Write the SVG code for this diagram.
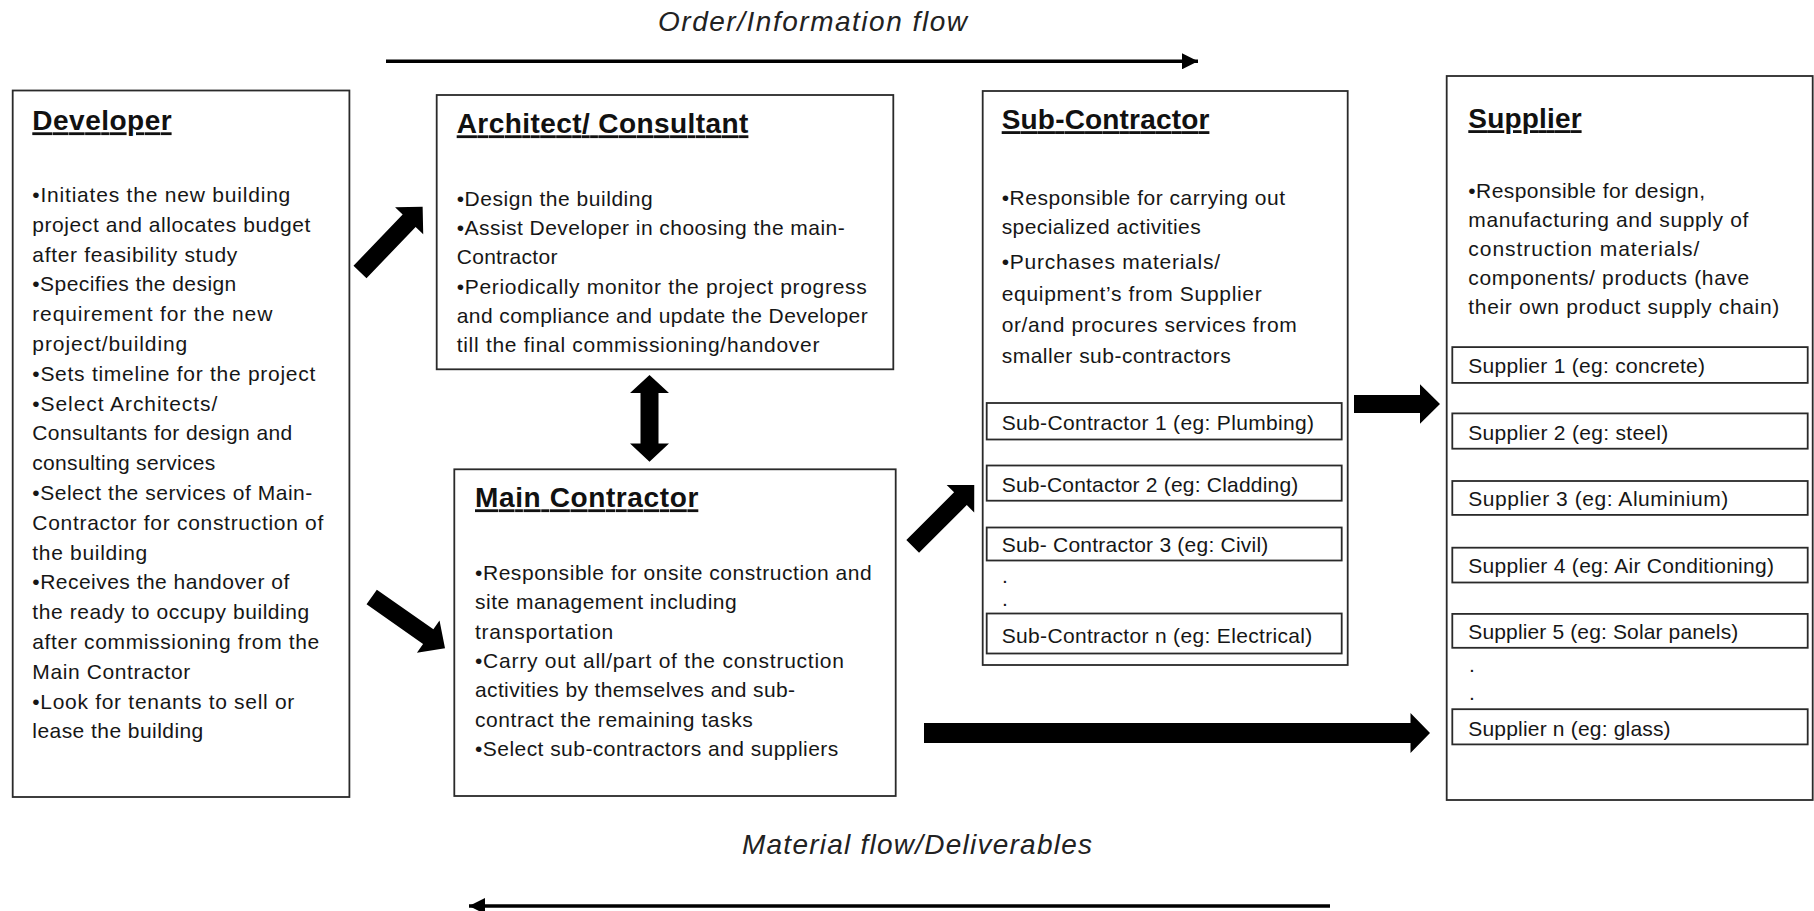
<svg xmlns="http://www.w3.org/2000/svg" width="1814" height="911" viewBox="0 0 1814 911">
<style>
.bg{fill:#fff}
.box{fill:#fff;stroke:#2a2a2a;stroke-width:1.8}
.sub{fill:#fff;stroke:#2a2a2a;stroke-width:1.8}
.t{font-family:"Liberation Sans",Arial,sans-serif;font-size:21px;fill:#161616}
.h{font-family:"Liberation Sans",Arial,sans-serif;font-size:28px;font-weight:bold;fill:#111;text-decoration:underline}
.it{font-family:"Liberation Sans",Arial,sans-serif;font-size:28px;font-style:italic;fill:#222}
.blk{fill:#000}
.thin{stroke:#000;stroke-width:3.5;fill:none}
</style>
<defs>
<marker id="ah" markerWidth="18" markerHeight="16" refX="16" refY="8" orient="auto" markerUnits="userSpaceOnUse">
<path d="M0,0 L16,8 L0,16 Z" fill="#000"/>
</marker>
</defs>
<rect class="bg" x="0" y="0" width="1814" height="911"/>

<g id="flow-labels">
<text class="it" x="658" y="31" textLength="309">Order/Information flow</text>
<text class="it" x="742" y="854" textLength="350">Material flow/Deliverables</text>
</g>

<g id="developer">
<rect class="box" x="12.7" y="90.5" width="336.7" height="706.5"/>
<text class="h" x="32.3" y="130.3" textLength="139.3">Developer</text>
<text class="t" x="32.3" y="202" textLength="258">•Initiates the new building</text>
<text class="t" x="32.3" y="231.8" textLength="278">project and allocates budget</text>
<text class="t" x="32.3" y="261.6" textLength="205">after feasibility study</text>
<text class="t" x="32.3" y="291.4" textLength="204">•Specifies the design</text>
<text class="t" x="32.3" y="321.2" textLength="240">requirement for the new</text>
<text class="t" x="32.3" y="351" textLength="155">project/building</text>
<text class="t" x="32.3" y="380.8" textLength="283">•Sets timeline for the project</text>
<text class="t" x="32.3" y="410.6" textLength="185">•Select Architects/</text>
<text class="t" x="32.3" y="440.4" textLength="260">Consultants for design and</text>
<text class="t" x="32.3" y="470.2" textLength="183">consulting services</text>
<text class="t" x="32.3" y="500" textLength="280">•Select the services of Main-</text>
<text class="t" x="32.3" y="529.8" textLength="291">Contractor for construction of</text>
<text class="t" x="32.3" y="559.6" textLength="115">the building</text>
<text class="t" x="32.3" y="589.4" textLength="257">•Receives the handover of</text>
<text class="t" x="32.3" y="619.2" textLength="277">the ready to occupy building</text>
<text class="t" x="32.3" y="649" textLength="287">after commissioning from the</text>
<text class="t" x="32.3" y="678.8" textLength="158">Main Contractor</text>
<text class="t" x="32.3" y="708.6" textLength="262">•Look for tenants to sell or</text>
<text class="t" x="32.3" y="738.4" textLength="171">lease the building</text>
</g>

<g id="architect">
<rect class="box" x="436.7" y="95" width="456.6" height="274.3"/>
<text class="h" x="456.7" y="133.3" textLength="291.7">Architect/ Consultant</text>
<text class="t" x="456.7" y="206" textLength="196">•Design the building</text>
<text class="t" x="456.7" y="235.2" textLength="388">•Assist Developer in choosing the main-</text>
<text class="t" x="456.7" y="264.4" textLength="100.7">Contractor</text>
<text class="t" x="456.7" y="293.6" textLength="410">•Periodically monitor the project progress</text>
<text class="t" x="456.7" y="322.8" textLength="411">and compliance and update the Developer</text>
<text class="t" x="456.7" y="352" textLength="362.7">till the final commissioning/handover</text>
</g>

<g id="main-contractor">
<rect class="box" x="454.3" y="469.3" width="441.4" height="326.7"/>
<text class="h" x="475" y="507.3" textLength="223.3">Main Contractor</text>
<text class="t" x="475" y="580" textLength="396.7">•Responsible for onsite construction and</text>
<text class="t" x="475" y="609.3" textLength="261.7">site management including</text>
<text class="t" x="475" y="638.6" textLength="138.3">transportation</text>
<text class="t" x="475" y="667.9" textLength="369">•Carry out all/part of the construction</text>
<text class="t" x="475" y="697.2" textLength="320">activities by themselves and sub-</text>
<text class="t" x="475" y="726.5" textLength="277.7">contract the remaining tasks</text>
<text class="t" x="475" y="755.8" textLength="363.3">•Select sub-contractors and suppliers</text>
</g>

<g id="sub-contractor">
<rect class="box" x="982.7" y="91" width="365" height="574"/>
<text class="h" x="1001.7" y="129.2" textLength="207.7">Sub-Contractor</text>
<text class="t" x="1001.7" y="205" textLength="283.3">•Responsible for carrying out</text>
<text class="t" x="1001.7" y="234" textLength="199">specialized activities</text>
<text class="t" x="1001.7" y="269" textLength="218.3">•Purchases materials/</text>
<text class="t" x="1001.7" y="300.5" textLength="260">equipment’s from Supplier</text>
<text class="t" x="1001.7" y="331.5" textLength="295">or/and procures services from</text>
<text class="t" x="1001.7" y="362.5" textLength="229">smaller sub-contractors</text>
<rect class="sub" x="986.7" y="403" width="355" height="36.5"/>
<text class="t" x="1001.7" y="430" textLength="312.3">Sub-Contractor 1 (eg: Plumbing)</text>
<rect class="sub" x="986.7" y="465.5" width="355" height="35.2"/>
<text class="t" x="1001.7" y="492" textLength="296.6">Sub-Contactor 2 (eg: Cladding)</text>
<rect class="sub" x="986.7" y="527.5" width="355" height="33"/>
<text class="t" x="1001.7" y="552.3" textLength="266.6">Sub- Contractor 3 (eg: Civil)</text>
<text class="t" x="1002" y="582.5">.</text>
<text class="t" x="1002" y="605.5">.</text>
<rect class="sub" x="986.7" y="613.5" width="355" height="40"/>
<text class="t" x="1001.7" y="642.5" textLength="310.6">Sub-Contractor n (eg: Electrical)</text>
</g>

<g id="supplier">
<rect class="box" x="1446.7" y="76" width="366" height="724"/>
<text class="h" x="1468.3" y="128.2" textLength="113.3">Supplier</text>
<text class="t" x="1468.3" y="198.3" textLength="236.7">•Responsible for design,</text>
<text class="t" x="1468.3" y="227.3" textLength="280">manufacturing and supply of</text>
<text class="t" x="1468.3" y="256.3" textLength="231">construction materials/</text>
<text class="t" x="1468.3" y="285.3" textLength="281">components/ products (have</text>
<text class="t" x="1468.3" y="314.3" textLength="311">their own product supply chain)</text>
<rect class="sub" x="1452.3" y="347.1" width="355.4" height="35.8"/>
<text class="t" x="1468.3" y="373" textLength="236.7">Supplier 1 (eg: concrete)</text>
<rect class="sub" x="1452.3" y="413.4" width="355.4" height="35.3"/>
<text class="t" x="1468.3" y="439.5" textLength="200">Supplier 2 (eg: steel)</text>
<rect class="sub" x="1452.3" y="481" width="355.4" height="33.9"/>
<text class="t" x="1468.3" y="506" textLength="260">Supplier 3 (eg: Aluminium)</text>
<rect class="sub" x="1452.3" y="547.7" width="355.4" height="34.8"/>
<text class="t" x="1468.3" y="573" textLength="305.7">Supplier 4 (eg: Air Conditioning)</text>
<rect class="sub" x="1452.3" y="613.9" width="355.4" height="33.9"/>
<text class="t" x="1468.3" y="639" textLength="270">Supplier 5 (eg: Solar panels)</text>
<text class="t" x="1469" y="672">.</text>
<text class="t" x="1469" y="700">.</text>
<rect class="sub" x="1452.3" y="709.2" width="355.4" height="35.2"/>
<text class="t" x="1468.3" y="735.5" textLength="202.3">Supplier n (eg: glass)</text>
</g>

<g id="connectors">
<line class="thin" x1="386" y1="61.3" x2="1198" y2="61.3" marker-end="url(#ah)"/>
<line class="thin" x1="1330" y1="906" x2="469" y2="906" marker-end="url(#ah)"/>
<polygon class="blk" transform="translate(360,272) rotate(-46.2)" points="0,-9 71,-9 71,-19.5 90.5,0 71,19.5 71,9 0,9"/>
<polygon class="blk" transform="translate(371.7,597) rotate(35)" points="0,-9 69,-9 69,-19.7 89.5,0 69,19.7 69,9 0,9"/>
<polygon class="blk" transform="translate(912.7,546.3) rotate(-44.9)" points="0,-9 67.4,-9 67.4,-19.5 86.9,0 67.4,19.5 67.4,9 0,9"/>
<polygon class="blk" points="649.5,375 669,393 658.5,393 658.5,443.5 669,443.5 649.5,461.7 630,443.5 640.5,443.5 640.5,393 630,393"/>
<polygon class="blk" points="1354,395 1420,395 1420,384.3 1440,404 1420,423.7 1420,413 1354,413"/>
<polygon class="blk" points="924,723 1410.5,723 1410.5,713 1430,733 1410.5,753 1410.5,743 924,743"/>
</g>
</svg>
